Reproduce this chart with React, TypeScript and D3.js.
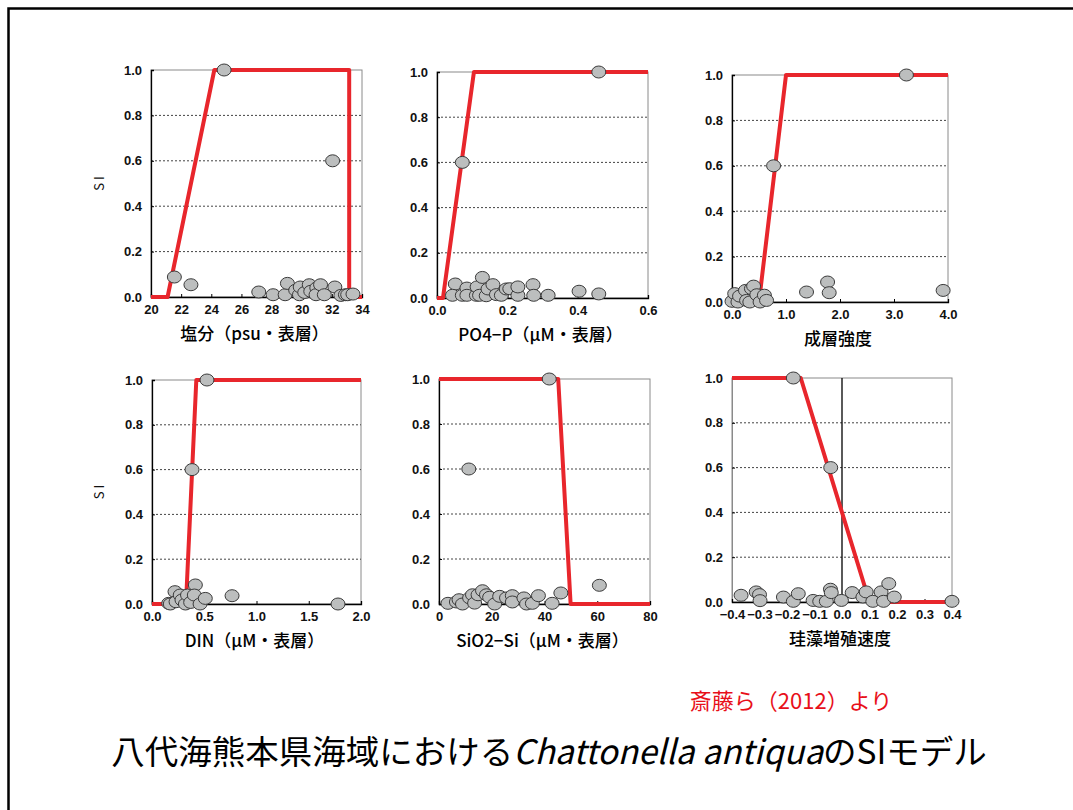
import React, { useRef, useEffect } from "react";
import * as d3 from "d3";

const salinityModel = [[20, 0], [21.1, 0], [24.2, 1], [33.15, 1], [33.15, 0], [34, 0]];
const salinityPoints = [
  [24.85, 1.0], [32.05, 0.6], [21.55, 0.088], [22.65, 0.054], [27.15, 0.022],
  [28.1, 0.01], [28.9, 0.01], [29.05, 0.06], [29.6, 0.03], [29.85, 0.01], [29.9, 0.044],
  [30.2, 0.02], [30.5, 0.054], [30.6, 0.025], [31.0, 0.04], [30.95, 0.01], [31.25, 0.054],
  [31.5, 0.01], [32.2, 0.044], [32.6, 0.007], [32.9, 0.01], [33.05, 0.01], [33.4, 0.013],
];
const salinityTicks = [20, 22, 24, 26, 28, 30, 32, 34];

const po4Model = [[0, 0], [0.017, 0], [0.105, 1], [0.6, 1]];
const po4Points = [
  [0.46, 1.0], [0.072, 0.6], [0.052, 0.062], [0.044, 0.012], [0.072, 0.012], [0.085, 0.044],
  [0.085, 0.012], [0.112, 0.012], [0.114, 0.049], [0.129, 0.091], [0.121, 0.012], [0.14, 0.01],
  [0.145, 0.04], [0.159, 0.059], [0.169, 0.015], [0.183, 0.012], [0.197, 0.04], [0.207, 0.041],
  [0.23, 0.012], [0.23, 0.049], [0.273, 0.059], [0.275, 0.012], [0.316, 0.012], [0.404, 0.03],
  [0.46, 0.018],
];
const po4Ticks = [0, 0.2, 0.4, 0.6];

const stratModel = [[0, 0], [0.5, 0], [1.0, 1], [4, 1]];
const stratPoints = [
  [3.23, 1.0], [0.77, 0.6], [0.0, 0.003], [0.05, 0.037], [0.11, 0.0], [0.14, 0.026],
  [0.25, 0.051], [0.27, 0.007], [0.33, 0.0], [0.36, 0.059], [0.4, 0.07], [0.46, 0.032],
  [0.52, 0.0], [0.6, 0.03], [0.64, 0.007], [1.38, 0.044], [1.77, 0.088], [1.8, 0.041],
  [3.91, 0.051],
];
const stratTicks = [0, 1, 2, 3, 4];

const dinModel = [[0, 0], [0.13, 0], [0.325, 0], [0.424, 1], [2, 1]];
const dinPoints = [
  [0.526, 1.0], [0.383, 0.6], [0.16, 0.003], [0.175, 0.0], [0.22, 0.055], [0.23, 0.01],
  [0.27, 0.04], [0.287, 0.018], [0.32, 0.0], [0.34, 0.04], [0.37, 0.007], [0.415, 0.085],
  [0.405, 0.04], [0.46, 0.0], [0.51, 0.025], [0.766, 0.037], [1.78, 0.0],
];
const dinTicks = [0, 0.5, 1, 1.5, 2];

const sio2Model = [[0, 1], [45.2, 1], [49.9, 0], [80, 0]];
const sio2Points = [
  [41.8, 1.0], [11.3, 0.6], [60.8, 0.083], [46.2, 0.049], [3.4, 0.003], [6.6, 0.009],
  [7.6, 0.019], [8.9, 0.0], [11.6, 0.027], [12.7, 0.041], [13.5, 0.004], [14.8, 0.041],
  [16.5, 0.059], [18, 0.041], [19.2, 0.03], [21.1, 0.0], [23, 0.034], [25.6, 0.027],
  [27.8, 0.037], [27.8, 0.009], [32.2, 0.027], [33.2, 0.0], [35.4, 0.003], [37.7, 0.037],
  [42.9, 0.003],
];
const sio2Ticks = [0, 20, 40, 60, 80];

const diatomModel = [[-0.4, 1], [-0.15, 1], [0.1, 0], [0.4, 0]];
const diatomPoints = [
  [-0.177, 1.0], [-0.041, 0.6], [0.4, 0.003], [-0.367, 0.03], [-0.312, 0.045], [-0.3, 0.033],
  [-0.298, 0.006], [-0.213, 0.022], [-0.177, 0.003], [-0.159, 0.037], [-0.105, 0.007],
  [-0.081, 0.003], [-0.057, 0.003], [-0.042, 0.057], [-0.039, 0.042], [-0.002, 0.007],
  [0.037, 0.042], [0.076, 0.022], [0.088, 0.045], [0.112, 0.003], [0.142, 0.045],
  [0.151, 0.003], [0.17, 0.082], [0.19, 0.022],
];
const diatomTicks = [-0.4, -0.3, -0.2, -0.1, 0, 0.1, 0.2, 0.3, 0.4];

const siTicks = [0, 0.2, 0.4, 0.6, 0.8, 1.0];
const xTitles = [
  "塩分（psu・表層）",
  "PO4−P（μM・表層）",
  "成層強度",
  "DIN（μM・表層）",
  "SiO2−Si（μM・表層）",
  "珪藻増殖速度",
];

const fmt1 = (d: number) => d3.format(".1f")(d).replace("-", "−");
const fmt0 = (d: number) => d3.format("d")(d);

const panels = [
  { model: salinityModel, points: salinityPoints, ticks: salinityTicks, fmt: fmt0, box: [151, 362, 70, 297], ylab: true },
  { model: po4Model, points: po4Points, ticks: po4Ticks, fmt: fmt1, box: [437, 648, 72, 298], ylab: false },
  { model: stratModel, points: stratPoints, ticks: stratTicks, fmt: fmt1, box: [732, 948, 75, 302], ylab: false },
  { model: dinModel, points: dinPoints, ticks: dinTicks, fmt: fmt1, box: [152, 361, 380, 604], ylab: true },
  { model: sio2Model, points: sio2Points, ticks: sio2Ticks, fmt: fmt0, box: [439, 650, 379, 604], ylab: false },
  { model: diatomModel, points: diatomPoints, ticks: diatomTicks, fmt: fmt1, box: [732, 952, 378, 602], ylab: false, zeroLine: true },
];

const App: React.FC = () => {
  const ref = useRef<SVGSVGElement | null>(null);

  useEffect(() => {
    if (!ref.current) return;
    const svg = d3.select(ref.current);
    svg.selectAll("*").remove();

    svg.append("rect").attr("width", 1073).attr("height", 810).attr("fill", "#fff");
    // slide frame
    svg.append("rect")
      .attr("x", 8.5).attr("y", 8.5).attr("width", 1200).attr("height", 1000)
      .attr("fill", "none").attr("stroke", "#000").attr("stroke-width", 2.5);

    panels.forEach((p, i) => {
      const [x0, x1, y0, y1] = p.box;
      const ticks = p.ticks;
      const x = d3.scaleLinear().domain([ticks[0], ticks[ticks.length - 1]]).range([x0, x1]);
      const y = d3.scaleLinear().domain([0, 1]).range([y1, y0]);
      const g = svg.append("g");

      // border
      g.append("rect").attr("x", x0).attr("y", y0).attr("width", x1 - x0).attr("height", y1 - y0)
        .attr("fill", "none").attr("stroke", "#8a8a8a").attr("stroke-width", 1);

      // dashed grid
      g.selectAll(".grid").data(siTicks.slice(1, -1)).join("line")
        .attr("x1", x0).attr("x2", x1).attr("y1", (d) => y(d)).attr("y2", (d) => y(d))
        .attr("stroke", "#444").attr("stroke-width", 1).attr("stroke-dasharray", "2,2");

      // axes
      const yAxis = g.append("g").attr("transform", `translate(${x0},0)`)
        .call(d3.axisLeft(y).tickValues(siTicks).tickSize(-3).tickPadding(9).tickFormat((d) => fmt1(+d)));
      const xAxis = g.append("g").attr("transform", `translate(0,${y1})`)
        .call(d3.axisBottom(x).tickValues(ticks).tickSize(-3).tickPadding(8).tickFormat((d) => p.fmt(+d)));
      [yAxis, xAxis].forEach((a) => {
        a.select(".domain").attr("stroke", "#000").attr("stroke-width", 1.3);
        a.selectAll(".tick line").attr("stroke", "#000");
        a.selectAll("text").attr("font-family", "Liberation Sans, Arial, sans-serif")
          .attr("font-size", 13).attr("fill", "#111").attr("font-weight", "bold");
      });
      if (p.zeroLine) {
        yAxis.select(".domain").attr("stroke", "#8a8a8a").attr("stroke-width", 1);
        g.append("line").attr("x1", x(0)).attr("x2", x(0)).attr("y1", y0).attr("y2", y1)
          .attr("stroke", "#000").attr("stroke-width", 1.3);
      }

      // SI model
      const line = d3.line<number[]>().x((d) => x(d[0])).y((d) => y(d[1]));
      g.append("path").attr("d", line(p.model)).attr("fill", "none")
        .attr("stroke", "#e8262c").attr("stroke-width", 4).attr("stroke-linejoin", "round");

      // observations
      g.selectAll(".pt").data(p.points).join("ellipse")
        .attr("cx", (d) => x(d[0])).attr("cy", (d) => y(d[1]))
        .attr("rx", 7).attr("ry", 6)
        .attr("fill", "#bcbebe").attr("stroke", "#3a3a3a").attr("stroke-width", 1);

      // x title
      g.append("text").attr("x", (x0 + x1) / 2 - 2).attr("y", y1 + 43)
        .attr("text-anchor", "middle").attr("font-family", "Noto Sans CJK JP")
        .attr("font-size", 17).attr("font-weight", 500).attr("fill", "#000").text(xTitles[i]);

      if (p.ylab) {
        g.append("text").attr("transform", `translate(104,${(y0 + y1) / 2}) rotate(-90)`)
          .attr("text-anchor", "middle").attr("font-family", "Noto Sans CJK JP")
          .attr("font-size", 13).attr("fill", "#111").text("S I");
      }
    });

    svg.append("text").attr("x", 791).attr("y", 709).attr("text-anchor", "middle")
      .attr("font-family", "Noto Sans CJK JP").attr("font-size", 22).attr("fill", "#e8101a")
      .text("斎藤ら（2012）より");

    const title = svg.append("text").attr("x", 549).attr("y", 764).attr("text-anchor", "middle")
      .attr("font-family", "Noto Sans CJK JP").attr("font-size", 33.5).attr("fill", "#000");
    title.append("tspan").text("八代海熊本県海域における");
    title.append("tspan").attr("font-style", "italic").text("Chattonella antiqua");
    title.append("tspan").text("のSIモデル");
  }, []);

  return (
    <div style={{ position: "absolute", left: 0, top: 0 }}>
      <svg ref={ref} width={1073} height={810} style={{ display: "block" }} />
    </div>
  );
};

export default App;
